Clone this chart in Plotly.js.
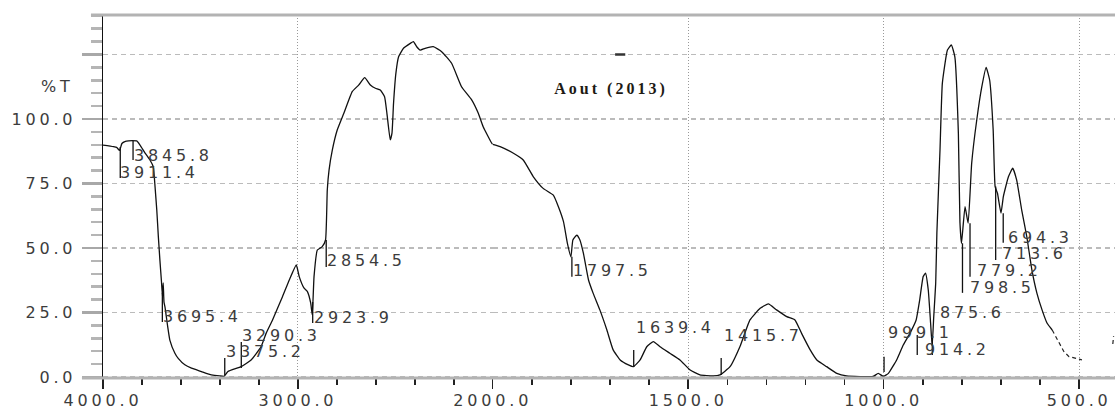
<!DOCTYPE html>
<html>
<head>
<meta charset="utf-8">
<script src="https://cdn.plot.ly/plotly-3.0.1.min.js"></script>
<style>
  html, body { margin:0; padding:0; background:#fff; }
  svg text { letter-spacing: 3.8px; }
  svg .gtitle { letter-spacing: 3.0px; }
</style>
</head>
<body>
<div id="chart" style="width:1115px;height:409px;"></div>
<script>
// Spectrum: wavenumber (cm-1) and transmittance (%T)
const wavenumber = [4000,3947,3930,3915,3903,3885,3869,3850,3827,3810,3784,3759,3742,3733,3724,3716,3708,3700,3695,3691,3687,3682,3668,3657,3631,3614,3580,3546,3495,3444,3402,3378,3359,3291,3240,3189,3163,3130,3079,3044,3008,2993,2968,2951,2934,2926,2917,2900,2875,2858,2849,2840,2823,2798,2764,2721,2687,2657,2628,2602,2577,2555,2543,2526,2517,2509,2497,2483,2458,2423,2407,2390,2372,2347,2305,2262,2211,2160,2108,2074,2049,2005,2000,1981,1947,1922,1896,1871,1845,1832,1819,1809,1800,1795,1785,1777,1768,1755,1743,1726,1708,1692,1674,1653,1640,1623,1606,1589,1572,1547,1521,1495,1470,1436,1419,1393,1367,1342,1316,1295,1274,1248,1227,1210,1188,1171,1146,1120,1095,1027,1014,1001,988,967,950,933,917,908,899,893,886,880,876,872,867,864,856,850,837,827,818,809,805,801,792,784,775,762,749,738,729,720,715,709,700,694,681,670,660,647,634,621,608,595,582,569];
const transmittance = [89.9,89.3,89.0,87.8,90.5,91.3,91.5,91.6,91.5,89.9,86.8,84.1,81.5,73.8,64.7,54.4,45.3,37.0,31.5,36.5,29.0,27.2,19.5,14.3,9.2,7.2,4.7,3.4,2.1,0.8,0.4,0.3,2.1,4.0,6.6,11.7,16.9,22.1,31.1,37.6,43.4,38.9,34.4,33.1,28.6,24.0,38.9,49.2,50.5,53.1,72.5,80.2,88.0,95.7,102.2,110.6,113.2,116.0,113.2,111.9,111.2,108.6,102.2,91.9,94.5,106.1,117.7,124.1,127.4,129.3,130.0,128.0,126.7,127.4,128.0,126.1,121.6,112.5,107.4,102.2,97.0,90.6,90.2,89.3,86.7,84.1,77.6,73.1,70.5,66.0,60.2,51.8,46.6,53.1,55.0,53.1,47.9,37.6,32.4,26.0,18.2,10.5,6.6,4.7,4.0,6.6,11.7,13.7,11.7,9.2,6.6,2.7,0.8,0.4,0.8,4.0,12.0,22.1,26.6,28.3,26.0,23.4,22.1,16.9,10.5,6.6,4.0,1.4,0.4,0.2,1.4,0.2,1.4,6.6,12.4,16.9,22.1,29.8,38.9,40.2,33.7,20.8,12.0,23.4,36.3,55.7,88.0,113.8,126.7,128.7,124.1,94.5,60.0,51.8,66.0,59.6,82.8,99.6,112.5,120.0,115.1,95.7,73.8,71.2,63.5,69.9,77.6,80.9,76.4,64.7,54.4,41.5,32.4,26.0,20.8,18.2];
// broken tail of the trace (low wavenumbers)
const tailWavenumber = [569,556,539,526,506,493,null,414,412];
const tailTransmittance = [18.2,14.3,9.8,7.9,7.2,6.6,null,12.8,15.8];

// Peak picks
const peakWn = [3911.4,3845.8,3695.4,3375.2,3290.3,2923.9,2854.5,1797.5,1639.4,1415.7,999.1,914.2,875.6,798.5,779.2,713.6,694.3];
const peakLabels = ["3911.4","3845.8","3695.4","3375.2","3290.3","2923.9","2854.5","1797.5","1639.4","1415.7","999.1","914.2","875.6","798.5","779.2","713.6","694.3"];
const peakLineFrom = [89.1,91.5,32.6,0.8,3.5,29.1,53.1,46.6,3.9,0.8,1.9,8.5,8.5,51.8,59.6,73.8,63.5];
const peakLineTo   = [77.1,84.1,21.3,7.4,13.6,20.9,42.6,38.8,10.5,7.4,7.8,16.3,14.3,32.6,38.8,45.3,52.0];
const peakTextT    = [79.1,86.0,23.3,9.7,16.1,23.1,45.0,41.1,19.2,15.9,17.1,10.5,24.8,34.5,41.1,47.7,54.1];
const peakTextDx   = [-1,0,0,0,0,0,0,0,1,2,3,7,7,7,6,5,4];

// Ticks
const xTicksLeft = [4000,3000];
const xTicksRight = [2000,1500,1000,500];
const yTickVals = [0,25,50,75,100,125];
const yTickText = ["0.0","25.0","50.0","75.0","100.0",""];
const titleText = "Aout (2013)";
const yUnitText = "%T";

const split = 2000;
const hi = {x:[], y:[]}, lo = {x:[], y:[]};
wavenumber.forEach((w,i)=>{
  if (w >= split) { hi.x.push(w); hi.y.push(transmittance[i]); }
  if (w <= split) { lo.x.push(w); lo.y.push(transmittance[i]); }
});

const lineStyle = {color:'#111', width:1.3, shape:'spline', smoothing:0.4};
const traces = [
  {x:hi.x, y:hi.y, xaxis:'x', yaxis:'y', mode:'lines', line:lineStyle, hoverinfo:'skip'},
  {x:lo.x, y:lo.y, xaxis:'x2', yaxis:'y', mode:'lines', line:lineStyle, hoverinfo:'skip'},
  {x:tailWavenumber, y:tailTransmittance, xaxis:'x2', yaxis:'y', mode:'lines', connectgaps:false,
   line:{color:'#222', width:1.2, dash:'4px,3px'}, hoverinfo:'skip'}
];

const labelFont = {family:'DejaVu Sans', size:16, color:'#3c3c3c'};
const shapes = [];
const annotations = [];
peakWn.forEach((w,i)=>{
  const xr = w >= split ? 'x' : 'x2';
  shapes.push({type:'line', xref:xr, yref:'y', x0:w, x1:w, y0:peakLineFrom[i], y1:peakLineTo[i],
               line:{color:'#111', width:1.3}});
  annotations.push({xref:xr, yref:'y', x:w, y:peakTextT[i], text:peakLabels[i], showarrow:false,
                    xanchor:'left', yanchor:'middle', xshift:peakTextDx[i], font:labelFont, borderpad:0});
});
annotations.push({xref:'paper', yref:'y', x:-0.028, y:112.4, text:yUnitText, showarrow:false,
                  xanchor:'right', yanchor:'middle', font:labelFont, borderpad:0});

// frame lines
shapes.push({type:'line', xref:'paper', yref:'paper', x0:-0.0208, x1:1, y0:0, y1:0, line:{color:'#b3b3b3', width:3}});
shapes.push({type:'line', xref:'paper', yref:'paper', x0:-0.0119, x1:1, y0:1, y1:1, line:{color:'#b3b3b3', width:3}});
// small mark on the top gridline
shapes.push({type:'line', xref:'x2', yref:'y', x0:1687, x1:1661, y0:125, y1:125, line:{color:'#333', width:2.5}});

const xCommon = {
  anchor:'y', ticks:'outside', ticklen:10, tickwidth:1.5, tickcolor:'#222',
  tickformat:'.1f', tickmode:'array', showgrid:true, gridcolor:'#999', griddash:'1px,2px', gridwidth:1,
  zeroline:false, showline:false, tickfont:labelFont, ticklabelstandoff:-2, fixedrange:true
};
const layout = {
  width:1115, height:409,
  margin:{l:103, r:0, t:15, b:31, pad:0},
  paper_bgcolor:'#fff', plot_bgcolor:'#fff', showlegend:false,
  title:{text:titleText, x:0.502, xref:'paper', xanchor:'center', y:0.785, yref:'container', yanchor:'middle',
         font:{family:'Liberation Serif', size:16, weight:'bold', color:'#1e1a14'}},
  xaxis:Object.assign({}, xCommon, {domain:[0,0.3851], range:[4000,2000], tickvals:xTicksLeft,
    minor:{tickmode:'linear', tick0:0, dtick:200, ticks:'outside', ticklen:6, tickwidth:1.5, tickcolor:'#222', showgrid:false}}),
  xaxis2:Object.assign({}, xCommon, {domain:[0.3851,1], range:[2000,408.4], tickvals:xTicksRight,
    minor:{tickmode:'linear', tick0:0, dtick:100, ticks:'outside', ticklen:6, tickwidth:1.5, tickcolor:'#222', showgrid:false}}),
  yaxis:{
    anchor:'x', range:[-0.4,140.3], tickmode:'array', tickvals:yTickVals, ticktext:yTickText,
    ticks:'outside', ticklen:20, tickwidth:2.5, tickcolor:'#a8a8a8',
    showgrid:true, gridcolor:'#bbb', griddash:'5px,4px', gridwidth:1.5, zeroline:false,
    showline:true, linecolor:'#111', linewidth:1.5, tickfont:labelFont, ticklabelstandoff:2, fixedrange:true,
    minor:{tickmode:'linear', tick0:0, dtick:5, ticks:'outside', ticklen:11, tickwidth:2.5, tickcolor:'#b5b5b5', showgrid:false}
  },
  shapes:shapes, annotations:annotations
};
Plotly.newPlot('chart', traces, layout, {displayModeBar:false, staticPlot:true});
</script>
</body>
</html>
